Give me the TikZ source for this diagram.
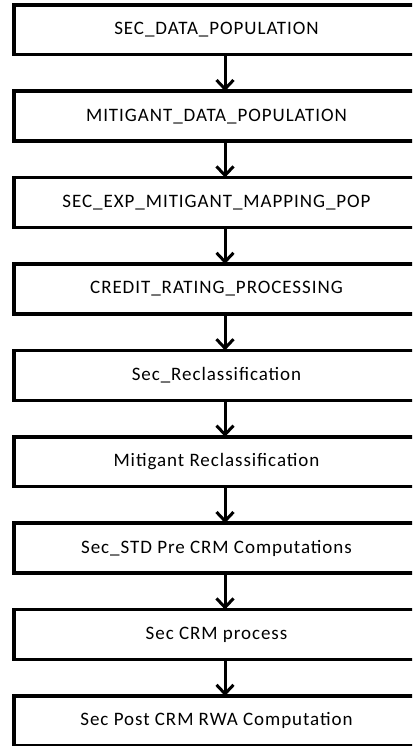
\documentclass[tikz,border=0pt]{standalone}
\usepackage{fontspec}
\setmainfont[LetterSpace=5]{Carlito}
\usetikzlibrary{positioning,arrows.meta}
\begin{document}
\begin{tikzpicture}[x=1pt, y=1pt,
    node distance=36.5pt,
    stepbox/.style={draw, line width=3.5pt, outer sep=0pt, minimum width=405pt,
      minimum height=49.9pt, font=\fontsize{19}{22}\selectfont},
    flow/.style={line width=3pt, -{Straight Barb[length=9pt, width=17pt]}}]
  % frame of the picture (right and bottom edges run off the page)
  \useasboundingbox (0,0) rectangle (412,-746);
  \clip (0,0) rectangle (412,-746);

  % Steps
  \node[stepbox] (secdata) at (216.5,-29.75) {SEC\_DATA\_POPULATION};
  \node[stepbox, below=of secdata] (mitdata) {MITIGANT\_DATA\_POPULATION};
  \node[stepbox, below=of mitdata] (expmap) {SEC\_EXP\_MITIGANT\_MAPPING\_POP};
  \node[stepbox, below=of expmap] (rating) {CREDIT\_RATING\_PROCESSING};
  \node[stepbox, below=of rating] (secrecl) {Sec\_Reclassification};
  \node[stepbox, below=of secrecl] (mitrecl) {Mitigant Reclassification};
  \node[stepbox, below=of mitrecl] (precrm) {Sec\_STD Pre CRM Computations};
  \node[stepbox, below=of precrm] (crm) {Sec CRM process};
  \node[stepbox, below=of crm] (postcrm) {Sec Post CRM RWA Computation};

  % Arrows
  \foreach \a/\b in {secdata/mitdata, mitdata/expmap, expmap/rating, rating/secrecl,
      secrecl/mitrecl, mitrecl/precrm, precrm/crm, crm/postcrm}
    \draw[flow] ([xshift=8.5pt]\a.south) -- ([xshift=8.5pt]\b.north);
\end{tikzpicture}
\end{document}
